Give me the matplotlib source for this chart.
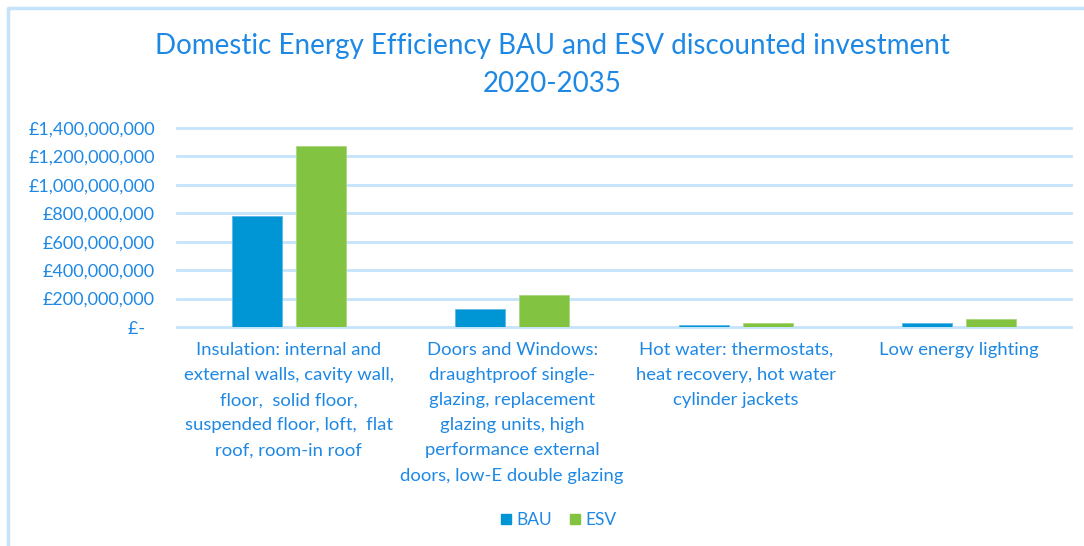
import matplotlib.pyplot as plt
import numpy as np
from matplotlib.lines import Line2D
from matplotlib.ticker import FuncFormatter

plt.rcParams['font.family'] = ['Lato', 'DejaVu Sans']

categories = [
    "Insulation: internal and\nexternal walls, cavity wall,\nfloor,  solid floor,\nsuspended floor, loft,  flat\nroof, room-in roof",
    "Doors and Windows:\ndraughtproof single-\nglazing, replacement\nglazing units, high\nperformance external\ndoors, low-E double glazing",
    "Hot water: thermostats,\nheat recovery, hot water\ncylinder jackets",
    "Low energy lighting",
]
bau = [780e6, 130e6, 12e6, 30e6]
esv = [1272e6, 222e6, 26e6, 53e6]
yticks = np.arange(0, 1.4e9 + 1, 2e8)

text_blue = '#1E88E5'
grid_blue = '#C5E3FA'

fig = plt.figure(figsize=(10.84, 5.46), dpi=100)
W, H = 1084, 546

# plot area in pixels: x 177..1071, y 128..327
ax = fig.add_axes([177 / W, 1 - 327 / H, (1071 - 177) / W, (327 - 128) / H])

x = np.arange(len(categories))
bw = 0.223
off = 0.143
ax.bar(x - off, bau, bw, color='#0096D6', edgecolor='#5DB8E6', linewidth=0.6, zorder=3, label='BAU')
ax.bar(x + off, esv, bw, color='#82C341', edgecolor='#A9D77E', linewidth=0.6, zorder=3, label='ESV')

ax.set_xlim(-0.5, len(categories) - 0.5)
ax.set_ylim(0, 1.4e9)
ax.set_yticks(yticks)


def money(v, pos):
    if v == 0:
        return '£-  '
    return '£{:,.0f}'.format(v)


ax.yaxis.set_major_formatter(FuncFormatter(money))
ax.tick_params(axis='y', length=0, pad=16, labelsize=13, labelcolor=text_blue)
ax.set_xticks([])
for y in yticks:
    ax.axhline(y, color=grid_blue, linewidth=2, zorder=1, clip_on=False)
for s in ax.spines.values():
    s.set_visible(False)

for i, lab in enumerate(categories):
    fig.text((177 + (i + 0.5) * (1071 - 177) / 4) / W, 1 - 342 / H, lab,
             ha='center', va='top', fontsize=13.3, color=text_blue, linespacing=1.7)

fig.text(552 / W, 1 - 65 / H, "Domestic Energy Efficiency BAU and ESV discounted investment\n2020-2035",
         ha='center', va='center', fontsize=20, color=text_blue, linespacing=1.6)

handles = [Line2D([], [], marker='s', linestyle='', markersize=7.5, color='#0096D6'),
           Line2D([], [], marker='s', linestyle='', markersize=7.5, color='#82C341')]
fig.legend(handles, ['BAU', 'ESV'], loc='center', bbox_to_anchor=(557 / W, 1 - 520 / H),
           ncol=2, frameon=False, fontsize=12.5, labelcolor=text_blue,
           handletextpad=0.1, columnspacing=0.8, handlelength=1.0)

# outer chart border (top and left edges)
fig.add_artist(Line2D([8 / W, 8 / W, 1.0], [0.0, 1 - 8 / H, 1 - 8 / H],
                      transform=fig.transFigure, color=grid_blue, linewidth=2.5))

fig.savefig('out.png', dpi=100)
